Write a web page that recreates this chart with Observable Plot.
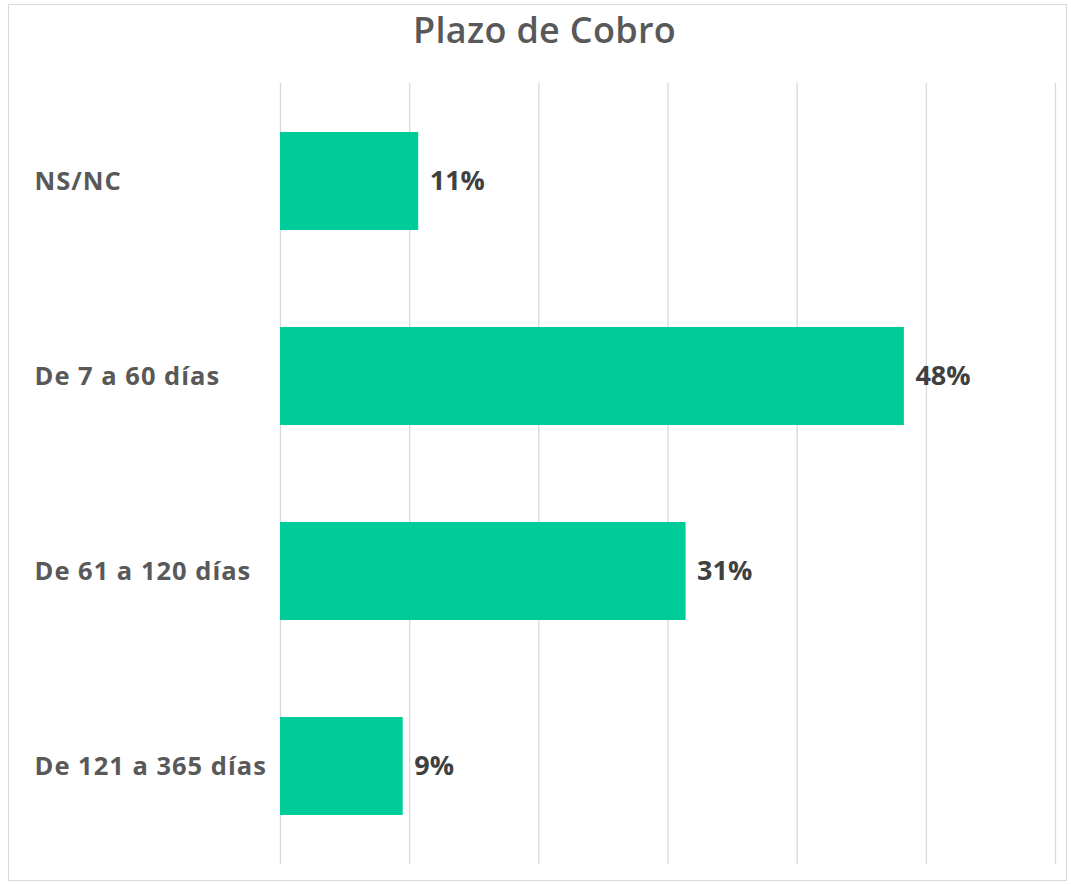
<!DOCTYPE html>
<html>
<head>
<meta charset="utf-8">
<script src="https://cdn.jsdelivr.net/npm/d3@7"></script>
<script src="https://cdn.jsdelivr.net/npm/@observablehq/plot@0.6"></script>
<style>
  html, body { margin: 0; padding: 0; background: #fff; }
  #wrap { position: relative; width: 1071px; height: 886px; overflow: hidden; }
  #frame { position: absolute; left: 8px; top: 4px; width: 1059px; height: 877px; border: 1px solid #d9d9d9; box-sizing: border-box; }
  #title { position: absolute; left: 0; top: 5px; width: 1089px; text-align: center; font-family: "Open Sans", sans-serif; font-weight: 600; font-size: 36px; letter-spacing: 0.3px; line-height: normal; color: #595959; }
  #chart { position: absolute; left: 0; top: 0; }
</style>
</head>
<body>
<div id="wrap">
  <div id="frame"></div>
  <div id="title">Plazo de Cobro</div>
  <div id="chart"></div>
</div>
<script>
const categories = ["NS/NC", "De 7 a 60 días", "De 61 a 120 días", "De 121 a 365 días"];
const values = [10.7, 48.3, 31.4, 9.5];
const labels = ["11%", "48%", "31%", "9%"];
const xTicks = [0, 10, 20, 30, 40, 50, 60];

const data = categories.map((c, i) => ({category: c, value: values[i], label: labels[i]}));

const chart = Plot.plot({
  width: 1071,
  height: 886,
  marginTop: 83,
  marginBottom: 22,
  marginLeft: 280,
  marginRight: 16,
  style: {background: "transparent", fontFamily: "'Open Sans', sans-serif"},
  x: {domain: [0, 60], axis: null},
  y: {domain: categories, paddingInner: 0.5, paddingOuter: 0.25, axis: null},
  marks: [
    Plot.ruleX(xTicks, {stroke: "#d9d9d9", strokeWidth: 1.3, strokeOpacity: 1}),
    Plot.barX(data, {x: "value", y: "category", fill: "#00CC99"}),
    Plot.text(data, {x: "value", y: "category", text: "label", textAnchor: "start", dx: 11, dy: 0, fill: "#404040", fontSize: 27, fontWeight: 700}),
    Plot.text(data, {y: "category", text: "category", frameAnchor: "left", textAnchor: "start", dx: -246, dy: 0, fill: "#595959", fontSize: 25.5, fontWeight: 700})
  ]
});
d3.select(chart).selectAll('g[fill="#595959"] text').style("letter-spacing", "1px");
document.getElementById("chart").appendChild(chart);
</script>
</body>
</html>
